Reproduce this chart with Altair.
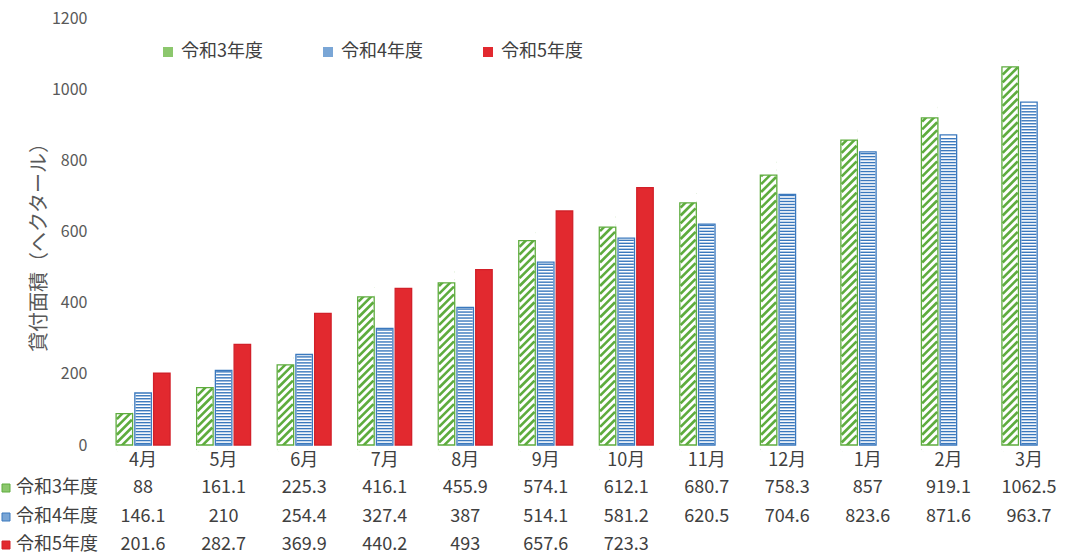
import altair as alt
import pandas as pd

months = ["4月", "5月", "6月", "7月", "8月", "9月", "10月", "11月", "12月", "1月", "2月", "3月"]
series_names = ["令和3年度", "令和4年度", "令和5年度"]
r3 = [88, 161.1, 225.3, 416.1, 455.9, 574.1, 612.1, 680.7, 758.3, 857, 919.1, 1062.5]
r4 = [146.1, 210, 254.4, 327.4, 387, 514.1, 581.2, 620.5, 704.6, 823.6, 871.6, 963.7]
r5 = [201.6, 282.7, 369.9, 440.2, 493, 657.6, 723.3]
y_ticks = [0, 200, 400, 600, 800, 1000, 1200]

stroke_colors = ["#5eac3e", "#3a78bd", "#d22029"]
bar_fills = ["#ffffff", "#ffffff", "#e2292f"]
legend_colors = ["#8cc76d", "#7aa6d6", "#e2292f"]

rows = []
for vals, s in zip([r3, r4, r5], series_names):
    for m, v in zip(months, vals):
        rows.append({"month": m, "series": s, "value": v, "label": f"{v:g}"})
df = pd.DataFrame(rows)
hdr = pd.DataFrame({"series": series_names})

FONT = "Noto Sans CJK JP"
TXT = "#404040"
FS = 18

x_enc = alt.X("month:N", sort=months, title=None,
              scale=alt.Scale(domain=months, paddingInner=0.33),
              axis=alt.Axis(domain=False, ticks=False, labelAngle=0, labelFontSize=FS,
                            labelColor=TXT, labelPadding=6, labelFont=FONT, grid=False,
                            zindex=1))
xoff = alt.XOffset("series:N", sort=series_names,
                   scale=alt.Scale(domain=series_names, paddingInner=0.12))
y_enc = alt.Y("value:Q", title="貸付面積（ヘクタール）",
              scale=alt.Scale(domain=[0, 1200], nice=False),
              axis=alt.Axis(values=y_ticks, format="d", domain=False, ticks=False, grid=False,
                            labelFontSize=16, labelColor="#595959", labelPadding=13,
                            labelFont=FONT, titleFont=FONT, titleFontSize=20,
                            titleFontWeight="normal", titleColor="#595959",
                            titleX=-51, titleY=224, titleAngle=-90))

base = alt.Chart(df)
layers = []

# bar bodies
for i, s in enumerate(series_names):
    layers.append(
        base.transform_filter(alt.datum.series == s).mark_bar(
            fill=bar_fills[i], stroke=None
        ).encode(x=x_enc, xOffset=xoff, y=y_enc)
    )

# green diagonal hatching
layers.append(
    base.transform_filter(alt.datum.series == series_names[0]).transform_calculate(
        seq="sequence(6, datum.value + 20, 22)"
    ).transform_flatten(["seq"]).mark_point(
        shape="M -1 1 L 1 -1", size=225, filled=False, strokeWidth=2.6,
        color=stroke_colors[0], opacity=1
    ).encode(x=x_enc, xOffset=xoff, y=alt.Y("seq:Q"))
)
# masks trimming hatching overflow above and below green bars
layers.append(
    base.transform_filter(alt.datum.series == series_names[0]).transform_calculate(
        top="datum.value + 45"
    ).mark_bar(fill="white", stroke=None).encode(
        x=x_enc, xOffset=xoff, y=alt.Y("value:Q"), y2="top:Q")
)
layers.append(
    base.transform_filter(alt.datum.series == series_names[0]).transform_calculate(
        z="0", bot="-18"
    ).mark_bar(fill="white", stroke=None).encode(
        x=x_enc, xOffset=xoff, y=alt.Y("z:Q"), y2="bot:Q")
)

# blue horizontal hatching
layers.append(
    base.transform_filter(alt.datum.series == series_names[1]).transform_calculate(
        seq="sequence(4, datum.value - 3, 8.4)"
    ).transform_flatten(["seq"]).mark_tick(
        color=stroke_colors[1], thickness=1.4, size=15, opacity=1
    ).encode(x=x_enc, xOffset=xoff, y=alt.Y("seq:Q"))
)

# bar outlines
for i, s in enumerate(series_names):
    layers.append(
        base.transform_filter(alt.datum.series == s).mark_bar(
            fillOpacity=0, stroke=stroke_colors[i], strokeWidth=1.3
        ).encode(x=x_enc, xOffset=xoff, y=y_enc)
    )

# legend (from a swatch layer)
layers.append(
    alt.Chart(hdr).mark_square(size=0, opacity=0).encode(
        x=alt.value(0), y=alt.value(0),
        fill=alt.Fill("series:N", sort=series_names,
                      scale=alt.Scale(domain=series_names, range=legend_colors),
                      legend=alt.Legend(title=None, orient="none", legendX=59, legendY=25,
                                        direction="horizontal", symbolType="square",
                                        symbolSize=100, symbolOpacity=1, symbolStrokeWidth=0,
                                        labelFontSize=FS, labelFont=FONT, labelColor=TXT,
                                        columnPadding=56, labelOffset=4))
    )
)

# data table
row_y = [470, 499, 527]
for i, s in enumerate(series_names):
    layers.append(
        base.transform_filter(alt.datum.series == s).mark_text(
            fontSize=FS, font=FONT, color=TXT, baseline="middle", align="center"
        ).encode(x=x_enc, y=alt.value(row_y[i]), text="label:N")
    )
    layers.append(
        alt.Chart(hdr).transform_filter(alt.datum.series == s).mark_text(
            fontSize=FS, font=FONT, color=TXT, baseline="middle", align="left"
        ).encode(x=alt.value(-84), y=alt.value(row_y[i]), text="series:N")
    )
    layers.append(
        alt.Chart(hdr).transform_filter(alt.datum.series == s).mark_square(
            size=64, filled=True, opacity=1, fill=legend_colors[i],
            stroke=stroke_colors[i], strokeWidth=1
        ).encode(x=alt.value(-94), y=alt.value(row_y[i]))
    )

chart = alt.layer(*layers).properties(
    width=972, height=427,
    autosize=alt.AutoSizeParams(type="none"),
    padding={"left": 100, "top": 18, "right": 6, "bottom": 109},
    background="white",
).configure_view(stroke=None)

chart.save("out.html", embed_options={"renderer": "svg", "actions": False})
